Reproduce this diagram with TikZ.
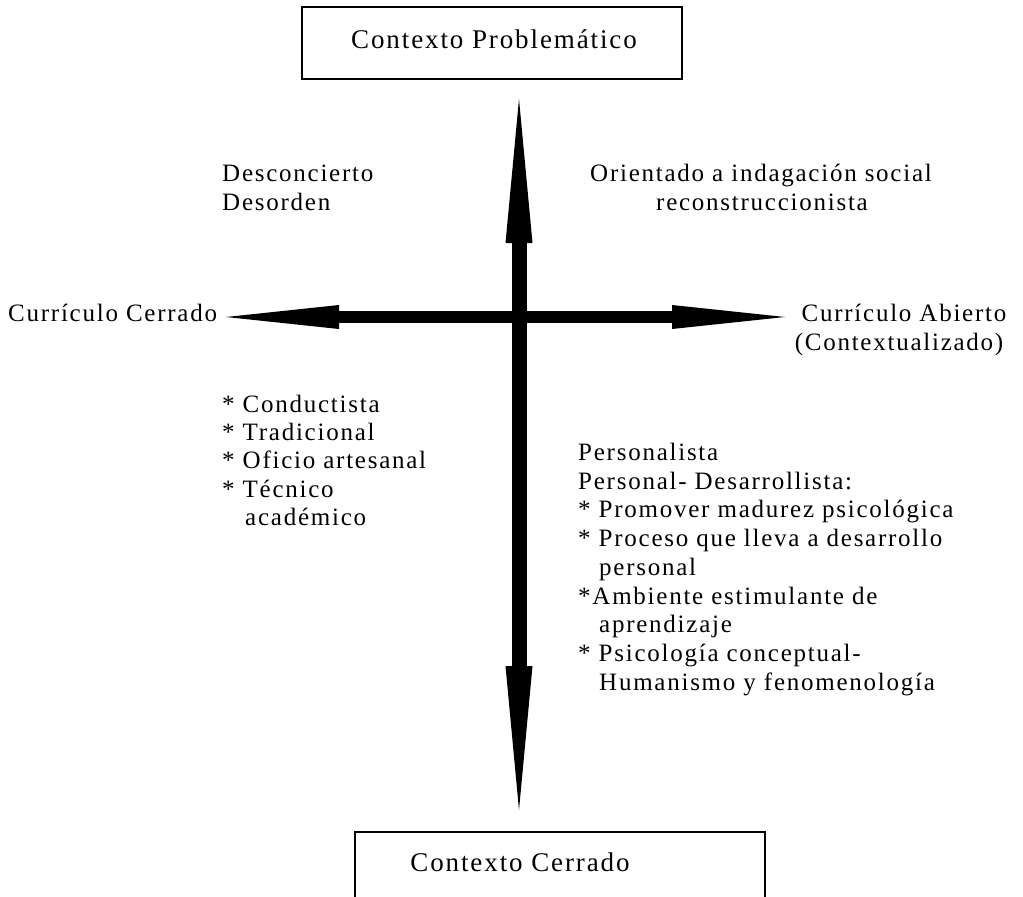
\documentclass[tikz,border=0pt]{standalone}
\usepackage{fontspec}
\setmainfont{Liberation Serif}[LetterSpace=7]
\usetikzlibrary{arrows.meta}
\begin{document}
\begin{tikzpicture}[x=1pt,y=-1pt,
  txt/.style={anchor=base west, inner sep=0pt, font=\fontsize{25}{29}\selectfont},
  ctxt/.style={anchor=base, inner sep=0pt, font=\fontsize{25}{29}\selectfont},
  boxtxt/.style={anchor=base, inner sep=0pt, font=\fontsize{27}{31}\selectfont},
  frame/.style={draw, line width=1.5pt},
  harrow/.style={line width=12pt, {Triangle[length=113pt,width=24pt,line width=0pt]}-{Triangle[length=113pt,width=24pt,line width=0pt]}},
  varrow/.style={line width=15pt, {Triangle[length=144pt,width=27pt,line width=0pt]}-{Triangle[length=144pt,width=27pt,line width=0pt]}}]
\useasboundingbox (0,0) rectangle (1023,897);
% top box
\node[frame, minimum width=380pt, minimum height=72pt, inner sep=0pt] (topbox) at (492,43) {};
\node[boxtxt] (toptxt) at (494,48) {Contexto Problemático};
% bottom open box
\coordinate (bl) at (355,897);
\coordinate (br) at (765,897);
\coordinate (tl) at (355,832);
\coordinate (tr) at (765,832);
\draw[frame] (bl) -- (tl) -- (tr) -- (br);
\node[boxtxt] (bottxt) at (520,871) {Contexto Cerrado};
% arrows
\coordinate (hL) at (226,317);
\coordinate (hR) at (785,317);
\coordinate (vT) at (519,99);
\coordinate (vB) at (519,810);
\draw[harrow] (hL) -- (hR);
\draw[varrow] (vT) -- (vB);
% labels
\node[txt] (d1) at (222,181) {Desconcierto};
\node[txt] (d2) at (222,210) {Desorden};
\node[ctxt] (o1) at (761,181) {Orientado a indagación social};
\node[ctxt] (o2) at (762,210) {reconstruccionista};
\node[txt] (cc) at (8,321) {Currículo Cerrado};
\node[ctxt] (ca1) at (904,321) {Currículo Abierto};
\node[ctxt] (ca2) at (899,350) {(Contextualizado)};
% left list
\node[txt] (l1) at (222,412) {* Conductista};
\node[txt] (l2) at (222,440) {* Tradicional};
\node[txt] (l3) at (222,468) {* Oficio artesanal};
\node[txt] (l4) at (222,497) {* Técnico};
\node[txt] (l5) at (245,525) {académico};
% right list
\node[txt] (r1) at (578,460) {Personalista};
\node[txt] (r2) at (578,489) {Personal- Desarrollista:};
\node[txt] (r3) at (578,517) {* Promover madurez psicológica};
\node[txt] (r4) at (578,546) {* Proceso que lleva a desarrollo};
\node[txt] (r5) at (599,575) {personal};
\node[txt] (r6) at (578,604) {*Ambiente estimulante de};
\node[txt] (r7) at (599,632) {aprendizaje};
\node[txt] (r8) at (578,661) {* Psicología conceptual-};
\node[txt] (r9) at (599,690) {Humanismo y fenomenología};
\end{tikzpicture}
\end{document}
